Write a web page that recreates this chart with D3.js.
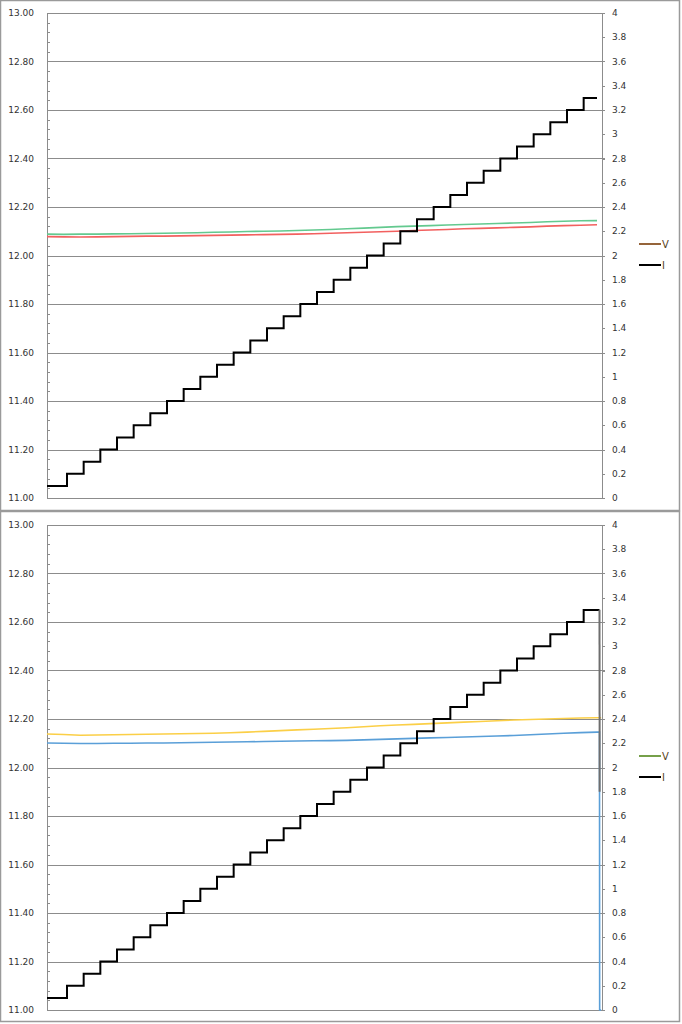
<!DOCTYPE html>
<meta charset="utf-8">
<script src="https://d3js.org/d3.v7.min.js"></script>
<style>
  body { margin: 0; background: #fff; }
  text { font-family: "DejaVu Sans", Verdana, sans-serif; font-size: 9px; fill: #333; }
</style>
<div id="my_dataviz"></div>
<script>

// ---- data ----
// sample times (arbitrary units, one reading every 10)
var vTimes = [0,10,20,30,40,50,60,70,80,90,100,110,120,130,140,150,160,170,180,190,200,210,220,230,240,250,260,270,280,290,300,310,320,330];

// top chart voltages
var topGreen = [12.088,12.087,12.088,12.088,12.089,12.090,12.091,12.092,12.093,12.094,12.096,12.097,12.099,12.100,12.101,12.103,12.105,12.107,12.110,12.113,12.116,12.119,12.121,12.123,12.126,12.128,12.130,12.132,12.134,12.136,12.139,12.141,12.143,12.144];
var topRed   = [12.078,12.077,12.076,12.077,12.078,12.079,12.080,12.080,12.081,12.082,12.083,12.084,12.085,12.086,12.087,12.088,12.090,12.092,12.094,12.096,12.098,12.100,12.103,12.105,12.107,12.110,12.112,12.114,12.116,12.118,12.121,12.123,12.125,12.127];

// bottom chart voltages (blue collapses at the end)
var botTimes  = [0,10,20,30,40,50,60,70,80,90,100,110,120,130,140,150,160,170,180,190,200,210,220,230,240,250,260,270,280,290,300,310,320,330,331.5,331.6,332.5];
var botYellow = [12.138,12.136,12.133,12.134,12.135,12.136,12.137,12.138,12.139,12.140,12.141,12.143,12.146,12.149,12.152,12.155,12.158,12.161,12.164,12.168,12.172,12.175,12.178,12.181,12.184,12.187,12.190,12.193,12.196,12.198,12.200,12.202,12.204,12.205,12.205,12.205,12.205];
var botBlue   = [12.101,12.100,12.099,12.099,12.100,12.100,12.101,12.101,12.102,12.103,12.104,12.105,12.106,12.107,12.108,12.109,12.110,12.111,12.112,12.114,12.116,12.118,12.120,12.122,12.124,12.126,12.128,12.130,12.132,12.135,12.138,12.141,12.144,12.146,12.146,11.00,11.00];

// current staircase: time each level starts, and the level
var iStepTimes = [0,12,22,32,42,52,62,72,82,92,102,112,122,132,142,152,162,172,182,192,202,212,222,232,242,252,262,272,282,292,302,312,322];
var iLevels    = [0.1,0.2,0.3,0.4,0.5,0.6,0.7,0.8,0.9,1.0,1.1,1.2,1.3,1.4,1.5,1.6,1.7,1.8,1.9,2.0,2.1,2.2,2.3,2.4,2.5,2.6,2.7,2.8,2.9,3.0,3.1,3.2,3.3];
var topIEnd = [[330, 3.3]];
var botIEnd = [[331.5, 3.3]];
var botIDrop = [[331.5, 3.3], [331.6, 1.8]];

// tick labels
var leftTicks  = [11.00,11.20,11.40,11.60,11.80,12.00,12.20,12.40,12.60,12.80,13.00];
var leftMinor  = [11.04,11.08,11.12,11.16,11.24,11.28,11.32,11.36,11.44,11.48,11.52,11.56,11.64,11.68,11.72,11.76,11.84,11.88,11.92,11.96,12.04,12.08,12.12,12.16,12.24,12.28,12.32,12.36,12.44,12.48,12.52,12.56,12.64,12.68,12.72,12.76,12.84,12.88,12.92,12.96];
var rightTicks = [0,0.2,0.4,0.6,0.8,1,1.2,1.4,1.6,1.8,2,2.2,2.4,2.6,2.8,3,3.2,3.4,3.6,3.8,4];
var legendNames = ["V", "I"];

// ---- layout ----
var W = 682, H = 1024;
var plotLeft = 47, plotRight = 602, plotH = 485;

var svg = d3.select("#my_dataviz").append("svg")
  .attr("width", W).attr("height", H);

var x = d3.scaleLinear().domain([0, 333]).range([plotLeft, plotRight]);
var yL = d3.scaleLinear().domain([11, 13]).range([plotH, 0]);
var yR = d3.scaleLinear().domain([0, 4]).range([plotH, 0]);

function drawPanel(top, frameY, vSeries, iEnd, iDrop, legendColors) {
  // frame
  svg.append("rect")
    .attr("x", 0.5).attr("y", frameY + 0.5)
    .attr("width", 679).attr("height", 510)
    .attr("fill", "#fff").attr("stroke", "#9a9a9a").attr("stroke-width", 1.5);

  var g = svg.append("g").attr("transform", "translate(0," + top + ")");

  // gridlines
  g.selectAll(".grid").data(leftTicks).enter().append("line")
    .attr("x1", plotLeft).attr("x2", plotRight + 3)
    .attr("y1", d => Math.round(yL(d)) + 0.5).attr("y2", d => Math.round(yL(d)) + 0.5)
    .attr("stroke", "#8c8c8c").attr("stroke-width", 1);

  // left axis
  g.append("line").attr("x1", plotLeft + 0.5).attr("x2", plotLeft + 0.5)
    .attr("y1", 0).attr("y2", plotH).attr("stroke", "#8c8c8c");
  g.selectAll(".lminor").data(leftMinor).enter().append("line")
    .attr("x1", plotLeft).attr("x2", plotLeft + 3)
    .attr("y1", d => Math.round(yL(d)) + 0.5).attr("y2", d => Math.round(yL(d)) + 0.5)
    .attr("stroke", "#8c8c8c");
  g.selectAll(".llab").data(leftTicks).enter().append("text")
    .attr("x", 34).attr("y", d => yL(d)).attr("dy", "0.35em")
    .attr("text-anchor", "end")
    .text(d => d3.format(".2f")(d));

  // right axis
  g.append("line").attr("x1", plotRight + 0.5).attr("x2", plotRight + 0.5)
    .attr("y1", 0).attr("y2", plotH).attr("stroke", "#8c8c8c");
  g.selectAll(".rtick").data(rightTicks).enter().append("line")
    .attr("x1", plotRight).attr("x2", plotRight + 3)
    .attr("y1", d => Math.round(yR(d)) + 0.5).attr("y2", d => Math.round(yR(d)) + 0.5)
    .attr("stroke", "#8c8c8c");
  g.selectAll(".rlab").data(rightTicks).enter().append("text")
    .attr("x", 612).attr("y", d => yR(d)).attr("dy", "0.35em")
    .text(d => d3.format("")(d));

  // voltage lines
  vSeries.forEach(function(s) {
    var line = d3.line().x((d, i) => x(s.t[i])).y(d => yL(d));
    g.append("path").datum(s.v)
      .attr("fill", "none").attr("stroke", s.color).attr("stroke-width", 1.6)
      .attr("d", line);
  });

  // current staircase
  var iLine = d3.line().x(d => x(d[0])).y(d => yR(d[1])).curve(d3.curveStepAfter);
  var pts = iStepTimes.map((t, i) => [t, iLevels[i]]).concat(iEnd);
  g.append("path").datum(pts)
    .attr("fill", "none").attr("stroke", "#000").attr("stroke-width", 2)
    .attr("d", iLine);
  if (iDrop) {
    g.append("path").datum(iDrop)
      .attr("fill", "none").attr("stroke", "#6e6e6e").attr("stroke-width", 2)
      .attr("d", d3.line().x(d => x(d[0])).y(d => yR(d[1])));
  }

  // legend
  var lg = g.selectAll(".leg").data(legendNames).enter().append("g")
    .attr("transform", (d, i) => "translate(639," + (231 + i * 21) + ")");
  lg.append("line").attr("x1", 0).attr("x2", 22).attr("y1", 0).attr("y2", 0)
    .attr("stroke", (d, i) => legendColors[i]).attr("stroke-width", 2);
  lg.append("text").attr("x", 23).attr("y", 0).attr("dy", "0.35em")
    .style("font-size", "10px").style("fill", "#5a4326")
    .text(d => d);
}

drawPanel(13, 0, [
  {t: vTimes, v: topGreen, color: "#63c98f"},
  {t: vTimes, v: topRed, color: "#f2605f"}
], topIEnd, null, ["#95643a", "#000"]);

drawPanel(525, 511, [
  {t: botTimes, v: botYellow, color: "#fbcf47"},
  {t: botTimes, v: botBlue, color: "#5a9fd8"}
], botIEnd, botIDrop, ["#76a04a", "#000"]);

</script>
